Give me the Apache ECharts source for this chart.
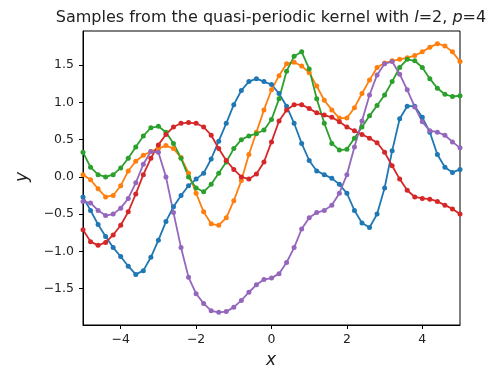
<!DOCTYPE html>
<html>
<head>
<meta charset="utf-8">
<script src="https://cdn.jsdelivr.net/npm/echarts@6/dist/echarts.min.js"></script>
<style>html,body{margin:0;padding:0;background:#fff}#c{width:500px;height:369px}</style>
</head>
<body>
<div id="c"></div>
<script>
const xValues = [-5,-4.8,-4.6,-4.4,-4.2,-4,-3.8,-3.6,-3.4,-3.2,-3,-2.8,-2.6,-2.4,-2.2,-2,-1.8,-1.6,-1.4,-1.2,-1,-0.8,-0.6,-0.4,-0.2,0,0.2,0.4,0.6,0.8,1,1.2,1.4,1.6,1.8,2,2.2,2.4,2.6,2.8,3,3.2,3.4,3.6,3.8,4,4.2,4.4,4.6,4.8,5];
const blueY = [-0.27,-0.45,-0.64,-0.80,-0.95,-1.07,-1.20,-1.31,-1.26,-1.08,-0.85,-0.60,-0.40,-0.25,-0.12,-0.03,0.05,0.24,0.48,0.72,0.97,1.16,1.28,1.32,1.28,1.24,1.12,0.95,0.72,0.45,0.22,0.08,0.03,-0.02,-0.10,-0.22,-0.45,-0.62,-0.68,-0.50,-0.15,0.35,0.78,0.95,0.95,0.80,0.60,0.30,0.13,0.06,0.10];
const orangeY = [0.03,-0.04,-0.16,-0.27,-0.25,-0.12,0.08,0.21,0.29,0.34,0.38,0.42,0.38,0.26,0.05,-0.22,-0.47,-0.63,-0.65,-0.55,-0.32,-0.05,0.30,0.60,0.90,1.17,1.36,1.52,1.54,1.49,1.40,1.22,1.03,0.90,0.79,0.79,0.93,1.12,1.30,1.47,1.53,1.56,1.58,1.60,1.63,1.68,1.74,1.79,1.76,1.68,1.55];
const greenY = [0.33,0.13,0.03,0.00,0.03,0.12,0.25,0.40,0.55,0.66,0.68,0.60,0.45,0.25,0.00,-0.15,-0.20,-0.10,0.05,0.20,0.38,0.50,0.55,0.58,0.63,0.77,1.05,1.42,1.62,1.68,1.45,1.05,0.72,0.45,0.36,0.37,0.52,0.67,0.82,0.96,1.10,1.28,1.47,1.58,1.56,1.47,1.32,1.19,1.11,1.08,1.09];
const redY = [-0.71,-0.87,-0.92,-0.88,-0.78,-0.65,-0.47,-0.23,0.03,0.25,0.43,0.57,0.67,0.72,0.73,0.72,0.67,0.56,0.38,0.22,0.10,0.00,-0.03,0.04,0.20,0.47,0.75,0.90,0.97,0.97,0.92,0.86,0.83,0.80,0.74,0.67,0.62,0.57,0.52,0.46,0.33,0.15,-0.03,-0.18,-0.27,-0.29,-0.30,-0.33,-0.38,-0.43,-0.50];
const purpleY = [-0.33,-0.35,-0.45,-0.52,-0.50,-0.42,-0.29,-0.08,0.17,0.34,0.33,0.00,-0.48,-0.95,-1.35,-1.57,-1.70,-1.80,-1.82,-1.81,-1.75,-1.66,-1.55,-1.45,-1.38,-1.36,-1.30,-1.15,-0.95,-0.70,-0.55,-0.48,-0.45,-0.38,-0.22,0.03,0.40,0.75,1.10,1.37,1.52,1.55,1.38,1.17,0.94,0.74,0.62,0.60,0.56,0.47,0.39];
const xTicks = [-4,-2,0,2,4];
const yTicks = [-1.5,-1,-0.5,0,0.5,1,1.5];
const seriesColors = ['#1f77b4','#ff7f0e','#2ca02c','#d62728','#9467bd'];
const allY = [blueY, orangeY, greenY, redY, purpleY];

const fmt = v => (v < 0 ? '\u2212' : '') + String(Math.abs(v));
const fmtY = v => (v < 0 ? '\u2212' : '') + Math.abs(v).toFixed(1);

const chart = echarts.init(document.getElementById('c'), null, {renderer: 'canvas'});
const FONT = 'DejaVu Sans';
chart.setOption({
  animation: false,
  backgroundColor: '#fff',
  grid: {left: 83, right: 40, top: 31, bottom: 44, show: true, borderColor: '#000', borderWidth: 1, backgroundColor: 'transparent'},
  xAxis: {
    type: 'value', min: -5, max: 5,
    axisLine: {show: true, onZero: false, lineStyle: {color: '#000', width: 1}},
    splitLine: {show: false},
    axisTick: {show: true, customValues: xTicks, length: 4, lineStyle: {color: '#000'}},
    axisLabel: {customValues: xTicks, formatter: v => fmt(v), color: '#222', fontFamily: FONT, fontSize: 12.5, margin: 8}
  },
  yAxis: {
    type: 'value', min: -1.99, max: 1.96,
    axisLine: {show: true, onZero: false, lineStyle: {color: '#000', width: 1}},
    splitLine: {show: false},
    axisTick: {show: true, customValues: yTicks, length: 4, lineStyle: {color: '#000'}},
    axisLabel: {customValues: yTicks, formatter: v => fmtY(v), color: '#222', fontFamily: FONT, fontSize: 12.5, margin: 9}
  },
  series: allY.map((ys, i) => ({
    type: 'line',
    data: xValues.map((x, j) => [x, ys[j]]),
    color: seriesColors[i],
    lineStyle: {width: 1.8, color: seriesColors[i]},
    itemStyle: {color: seriesColors[i]},
    symbol: 'circle', symbolSize: 5, showSymbol: true,
    clip: true
  })),
  graphic: [
    {type: 'text', x: 271, y: 18, style: {
      text: '{n|Samples from the quasi-periodic kernel with }{i|l}{n|=2, }{i|p}{n|=4}',
      align: 'center', verticalAlign: 'middle',
      rich: {
        n: {fontFamily: FONT, fontSize: 16, fill: '#222', color: '#222'},
        i: {fontFamily: FONT, fontSize: 16, fontStyle: 'italic', fill: '#222', color: '#222'}
      }
    }},
    {type: 'text', x: 271, y: 361, style: {text: 'x', font: 'italic 17px "DejaVu Sans"', fill: '#222', align: 'center', verticalAlign: 'middle'}},
    {type: 'text', x: 23, y: 177, rotation: Math.PI / 2, style: {text: 'y', font: 'italic 17px "DejaVu Sans"', fill: '#222', align: 'center', verticalAlign: 'middle'}}
  ]
});
</script>
</body>
</html>
